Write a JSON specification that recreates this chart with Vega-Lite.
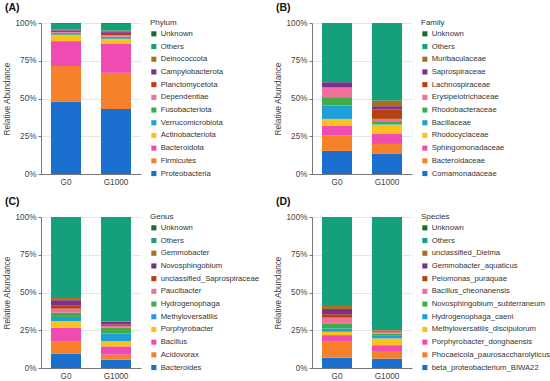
{
  "$schema": "https://vega.github.io/schema/vega-lite/v6.json",
  "padding": {"left": 2, "top": 2, "right": 0, "bottom": 0},
  "columns": 2,
  "bounds": "flush",
  "spacing": {"column": 171, "row": 43},
  "resolve": {"scale": {"color": "independent"}, "legend": {"color": "independent"}},
  "datasets": {
    "phylum": [
      {"group": "G0", "taxon": "Proteobacteria", "rank": 1, "abundance": 48},
      {"group": "G0", "taxon": "Firmicutes", "rank": 2, "abundance": 23.5},
      {"group": "G0", "taxon": "Bacteroidota", "rank": 3, "abundance": 16.5},
      {"group": "G0", "taxon": "Actinobacteriota", "rank": 4, "abundance": 4},
      {"group": "G0", "taxon": "Verrucomicrobiota", "rank": 5, "abundance": 0.5},
      {"group": "G0", "taxon": "Fusobacteriota", "rank": 6, "abundance": 1},
      {"group": "G0", "taxon": "Dependentiae", "rank": 7, "abundance": 0.5},
      {"group": "G0", "taxon": "Planctomycetota", "rank": 8, "abundance": 1},
      {"group": "G0", "taxon": "Campylobacterota", "rank": 9, "abundance": 0.5},
      {"group": "G0", "taxon": "Deinococcota", "rank": 10, "abundance": 0.5},
      {"group": "G0", "taxon": "Others", "rank": 11, "abundance": 3.5},
      {"group": "G0", "taxon": "Unknown", "rank": 12, "abundance": 0.5},
      {"group": "G1000", "taxon": "Proteobacteria", "rank": 1, "abundance": 43},
      {"group": "G1000", "taxon": "Firmicutes", "rank": 2, "abundance": 24},
      {"group": "G1000", "taxon": "Bacteroidota", "rank": 3, "abundance": 19.5},
      {"group": "G1000", "taxon": "Actinobacteriota", "rank": 4, "abundance": 3},
      {"group": "G1000", "taxon": "Verrucomicrobiota", "rank": 5, "abundance": 0.5},
      {"group": "G1000", "taxon": "Fusobacteriota", "rank": 6, "abundance": 1},
      {"group": "G1000", "taxon": "Dependentiae", "rank": 7, "abundance": 1},
      {"group": "G1000", "taxon": "Planctomycetota", "rank": 8, "abundance": 1.5},
      {"group": "G1000", "taxon": "Campylobacterota", "rank": 9, "abundance": 1},
      {"group": "G1000", "taxon": "Deinococcota", "rank": 10, "abundance": 0.5},
      {"group": "G1000", "taxon": "Others", "rank": 11, "abundance": 4.5},
      {"group": "G1000", "taxon": "Unknown", "rank": 12, "abundance": 0.5}
    ],
    "family": [
      {"group": "G0", "taxon": "Comamonadaceae", "rank": 1, "abundance": 15.3},
      {"group": "G0", "taxon": "Bacteroidaceae", "rank": 2, "abundance": 10.1},
      {"group": "G0", "taxon": "Sphingomonadaceae", "rank": 3, "abundance": 6.6},
      {"group": "G0", "taxon": "Rhodocyclaceae", "rank": 4, "abundance": 4.5},
      {"group": "G0", "taxon": "Bacillaceae", "rank": 5, "abundance": 8.9},
      {"group": "G0", "taxon": "Rhodobacteraceae", "rank": 6, "abundance": 5.5},
      {"group": "G0", "taxon": "Erysipelotrichaceae", "rank": 7, "abundance": 6.4},
      {"group": "G0", "taxon": "Lachnospiraceae", "rank": 8, "abundance": 0},
      {"group": "G0", "taxon": "Saprospiraceae", "rank": 9, "abundance": 3.5},
      {"group": "G0", "taxon": "Muribaculaceae", "rank": 10, "abundance": 0},
      {"group": "G0", "taxon": "Others", "rank": 11, "abundance": 39.2},
      {"group": "G0", "taxon": "Unknown", "rank": 12, "abundance": 0},
      {"group": "G1000", "taxon": "Comamonadaceae", "rank": 1, "abundance": 13.3},
      {"group": "G1000", "taxon": "Bacteroidaceae", "rank": 2, "abundance": 6.6},
      {"group": "G1000", "taxon": "Sphingomonadaceae", "rank": 3, "abundance": 6.6},
      {"group": "G1000", "taxon": "Rhodocyclaceae", "rank": 4, "abundance": 6.2},
      {"group": "G1000", "taxon": "Bacillaceae", "rank": 5, "abundance": 0.3},
      {"group": "G1000", "taxon": "Rhodobacteraceae", "rank": 6, "abundance": 2},
      {"group": "G1000", "taxon": "Erysipelotrichaceae", "rank": 7, "abundance": 1.5},
      {"group": "G1000", "taxon": "Lachnospiraceae", "rank": 8, "abundance": 6.2},
      {"group": "G1000", "taxon": "Saprospiraceae", "rank": 9, "abundance": 2.2},
      {"group": "G1000", "taxon": "Muribaculaceae", "rank": 10, "abundance": 3.8},
      {"group": "G1000", "taxon": "Others", "rank": 11, "abundance": 51.3},
      {"group": "G1000", "taxon": "Unknown", "rank": 12, "abundance": 0}
    ],
    "genus": [
      {"group": "G0", "taxon": "Bacteroides", "rank": 1, "abundance": 9.6},
      {"group": "G0", "taxon": "Acidovorax", "rank": 2, "abundance": 8.2},
      {"group": "G0", "taxon": "Bacillus", "rank": 3, "abundance": 8.9},
      {"group": "G0", "taxon": "Porphyrobacter", "rank": 4, "abundance": 4.4},
      {"group": "G0", "taxon": "Methyloversatilis", "rank": 5, "abundance": 2.7},
      {"group": "G0", "taxon": "Hydrogenophaga", "rank": 6, "abundance": 2.9},
      {"group": "G0", "taxon": "Paucibacter", "rank": 7, "abundance": 2.6},
      {"group": "G0", "taxon": "unclassified_Saprospiraceae", "rank": 8, "abundance": 2.3},
      {"group": "G0", "taxon": "Novosphingobium", "rank": 9, "abundance": 3.3},
      {"group": "G0", "taxon": "Gemmobacter", "rank": 10, "abundance": 2.2},
      {"group": "G0", "taxon": "Others", "rank": 11, "abundance": 52.9},
      {"group": "G0", "taxon": "Unknown", "rank": 12, "abundance": 0},
      {"group": "G1000", "taxon": "Bacteroides", "rank": 1, "abundance": 5.5},
      {"group": "G1000", "taxon": "Acidovorax", "rank": 2, "abundance": 3.3},
      {"group": "G1000", "taxon": "Bacillus", "rank": 3, "abundance": 5.5},
      {"group": "G1000", "taxon": "Porphyrobacter", "rank": 4, "abundance": 3.4},
      {"group": "G1000", "taxon": "Methyloversatilis", "rank": 5, "abundance": 5.1},
      {"group": "G1000", "taxon": "Hydrogenophaga", "rank": 6, "abundance": 3.8},
      {"group": "G1000", "taxon": "Paucibacter", "rank": 7, "abundance": 1.3},
      {"group": "G1000", "taxon": "unclassified_Saprospiraceae", "rank": 8, "abundance": 1.0},
      {"group": "G1000", "taxon": "Novosphingobium", "rank": 9, "abundance": 1.7},
      {"group": "G1000", "taxon": "Gemmobacter", "rank": 10, "abundance": 0.5},
      {"group": "G1000", "taxon": "Others", "rank": 11, "abundance": 68.9},
      {"group": "G1000", "taxon": "Unknown", "rank": 12, "abundance": 0}
    ],
    "species": [
      {"group": "G0", "taxon": "beta_proteobacterium_BIWA22", "rank": 1, "abundance": 6.9},
      {"group": "G0", "taxon": "Phocaeicola_paurosaccharolyticus", "rank": 2, "abundance": 10.9},
      {"group": "G0", "taxon": "Porphyrobacter_donghaensis", "rank": 3, "abundance": 4.0},
      {"group": "G0", "taxon": "Methyloversatilis_discipulorum", "rank": 4, "abundance": 2.2},
      {"group": "G0", "taxon": "Hydrogenophaga_caeni", "rank": 5, "abundance": 2.2},
      {"group": "G0", "taxon": "Novosphingobium_subterraneum", "rank": 6, "abundance": 3.4},
      {"group": "G0", "taxon": "Bacillus_cheonanensis", "rank": 7, "abundance": 3.7},
      {"group": "G0", "taxon": "Pelomonas_puraquae", "rank": 8, "abundance": 2.3},
      {"group": "G0", "taxon": "Gemmobacter_aquaticus", "rank": 9, "abundance": 3.5},
      {"group": "G0", "taxon": "unclassified_Dielma", "rank": 10, "abundance": 2.0},
      {"group": "G0", "taxon": "Others", "rank": 11, "abundance": 58.9},
      {"group": "G0", "taxon": "Unknown", "rank": 12, "abundance": 0},
      {"group": "G1000", "taxon": "beta_proteobacterium_BIWA22", "rank": 1, "abundance": 6.2},
      {"group": "G1000", "taxon": "Phocaeicola_paurosaccharolyticus", "rank": 2, "abundance": 4.5},
      {"group": "G1000", "taxon": "Porphyrobacter_donghaensis", "rank": 3, "abundance": 4.4},
      {"group": "G1000", "taxon": "Methyloversatilis_discipulorum", "rank": 4, "abundance": 4.5},
      {"group": "G1000", "taxon": "Hydrogenophaga_caeni", "rank": 5, "abundance": 1.7},
      {"group": "G1000", "taxon": "Novosphingobium_subterraneum", "rank": 6, "abundance": 1.6},
      {"group": "G1000", "taxon": "Bacillus_cheonanensis", "rank": 7, "abundance": 0.8},
      {"group": "G1000", "taxon": "Pelomonas_puraquae", "rank": 8, "abundance": 0.5},
      {"group": "G1000", "taxon": "Gemmobacter_aquaticus", "rank": 9, "abundance": 0.5},
      {"group": "G1000", "taxon": "unclassified_Dielma", "rank": 10, "abundance": 0.4},
      {"group": "G1000", "taxon": "Others", "rank": 11, "abundance": 74.9},
      {"group": "G1000", "taxon": "Unknown", "rank": 12, "abundance": 0}
    ]
  },
  "concat": [
    {
      "title": {"text": "(A)"},
      "data": {"name": "phylum"},
      "width": 100, "height": 151,
      "mark": {"type": "bar"},
      "encoding": {
        "x": {"field": "group", "type": "nominal", "sort": ["G0", "G1000"], "scale": {"paddingInner": 0.4, "paddingOuter": 0.2}, "axis": {"title": null}},
        "y": {"field": "abundance", "type": "quantitative", "stack": "zero", "scale": {"domain": [0, 100]}, "axis": {"title": "Relative Abundance", "values": [0, 25, 50, 75, 100], "labelExpr": "datum.value + '%'"}},
        "color": {"field": "taxon", "type": "nominal", "legend": {"title": "Phylum"},
          "scale": {"domain": ["Unknown", "Others", "Deinococcota", "Campylobacterota", "Planctomycetota", "Dependentiae", "Fusobacteriota", "Verrucomicrobiota", "Actinobacteriota", "Bacteroidota", "Firmicutes", "Proteobacteria"],
            "range": ["#1d6a2c", "#14a07a", "#a8701f", "#7d2f8e", "#c0391f", "#f2719c", "#3fae4a", "#1e9fd8", "#fcc21b", "#ef4bb3", "#f7812a", "#1a6fcf"]}},
        "order": {"field": "rank", "type": "quantitative"}
      }
    },
    {
      "title": {"text": "(B)"},
      "data": {"name": "family"},
      "width": 100, "height": 151,
      "mark": {"type": "bar"},
      "encoding": {
        "x": {"field": "group", "type": "nominal", "sort": ["G0", "G1000"], "scale": {"paddingInner": 0.4, "paddingOuter": 0.2}, "axis": {"title": null}},
        "y": {"field": "abundance", "type": "quantitative", "stack": "zero", "scale": {"domain": [0, 100]}, "axis": {"title": "Relative Abundance", "values": [0, 25, 50, 75, 100], "labelExpr": "datum.value + '%'"}},
        "color": {"field": "taxon", "type": "nominal", "legend": {"title": "Family"},
          "scale": {"domain": ["Unknown", "Others", "Muribaculaceae", "Saprospiraceae", "Lachnospiraceae", "Erysipelotrichaceae", "Rhodobacteraceae", "Bacillaceae", "Rhodocyclaceae", "Sphingomonadaceae", "Bacteroidaceae", "Comamonadaceae"],
            "range": ["#1d6a2c", "#14a07a", "#a8701f", "#7d2f8e", "#b5420e", "#f2719c", "#3fae4a", "#1e9fd8", "#fcc21b", "#ef4bb3", "#f7812a", "#1a6fcf"]}},
        "order": {"field": "rank", "type": "quantitative"}
      }
    },
    {
      "title": {"text": "(C)"},
      "data": {"name": "genus"},
      "width": 100, "height": 151,
      "mark": {"type": "bar"},
      "encoding": {
        "x": {"field": "group", "type": "nominal", "sort": ["G0", "G1000"], "scale": {"paddingInner": 0.4, "paddingOuter": 0.2}, "axis": {"title": null}},
        "y": {"field": "abundance", "type": "quantitative", "stack": "zero", "scale": {"domain": [0, 100]}, "axis": {"title": "Relative Abundance", "values": [0, 25, 50, 75, 100], "labelExpr": "datum.value + '%'"}},
        "color": {"field": "taxon", "type": "nominal", "legend": {"title": "Genus"},
          "scale": {"domain": ["Unknown", "Others", "Gemmobacter", "Novosphingobium", "unclassified_Saprospiraceae", "Paucibacter", "Hydrogenophaga", "Methyloversatilis", "Porphyrobacter", "Bacillus", "Acidovorax", "Bacteroides"],
            "range": ["#1d6a2c", "#14a07a", "#a8701f", "#7d2f8e", "#b5420e", "#f2719c", "#3fae4a", "#1e9fd8", "#fcc21b", "#ef4bb3", "#f7812a", "#1a6fcf"]}},
        "order": {"field": "rank", "type": "quantitative"}
      }
    },
    {
      "title": {"text": "(D)"},
      "data": {"name": "species"},
      "width": 100, "height": 151,
      "mark": {"type": "bar"},
      "encoding": {
        "x": {"field": "group", "type": "nominal", "sort": ["G0", "G1000"], "scale": {"paddingInner": 0.4, "paddingOuter": 0.2}, "axis": {"title": null}},
        "y": {"field": "abundance", "type": "quantitative", "stack": "zero", "scale": {"domain": [0, 100]}, "axis": {"title": "Relative Abundance", "values": [0, 25, 50, 75, 100], "labelExpr": "datum.value + '%'"}},
        "color": {"field": "taxon", "type": "nominal", "legend": {"title": "Species"},
          "scale": {"domain": ["Unknown", "Others", "unclassified_Dielma", "Gemmobacter_aquaticus", "Pelomonas_puraquae", "Bacillus_cheonanensis", "Novosphingobium_subterraneum", "Hydrogenophaga_caeni", "Methyloversatilis_discipulorum", "Porphyrobacter_donghaensis", "Phocaeicola_paurosaccharolyticus", "beta_proteobacterium_BIWA22"],
            "range": ["#1d6a2c", "#14a07a", "#a8701f", "#7d2f8e", "#b5420e", "#f2719c", "#3fae4a", "#1e9fd8", "#fcc21b", "#ef4bb3", "#f7812a", "#1a6fcf"]}},
        "order": {"field": "rank", "type": "quantitative"}
      }
    }
  ],
  "config": {
    "font": "Liberation Sans",
    "view": {"stroke": null},
    "title": {"anchor": "start", "frame": "group", "dx": -36, "fontSize": 10.5, "fontWeight": "bold", "color": "#111", "offset": 5},
    "axis": {"labelFontSize": 8.2, "titleFontSize": 8.2, "labelColor": "#444", "titleColor": "#444", "titleFontWeight": "normal", "domainColor": "#777", "tickColor": "#777", "gridColor": "#e6e6e6", "tickSize": 3, "labelPadding": 2, "titlePadding": 4},
    "axisX": {"grid": false, "ticks": false, "labelAngle": 0, "labelPadding": 4},
    "legend": {"titleFontSize": 8, "titleFontWeight": "normal", "titleColor": "#333", "titleBaseline": "middle", "labelFontSize": 7.7, "labelColor": "#333", "symbolType": "square", "symbolSize": 26, "symbolStrokeWidth": 0, "rowPadding": 3.7, "offset": 9, "titlePadding": -1, "labelOffset": 3}
  }
}
